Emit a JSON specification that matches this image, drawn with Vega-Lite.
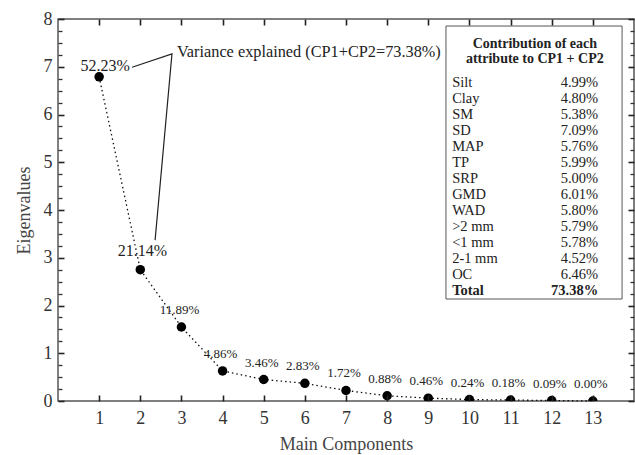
{
  "$schema": "https://vega.github.io/schema/vega-lite/v6.json",
  "width": 576,
  "height": 382,
  "autosize": {"type": "none"},
  "padding": {"left": 58, "top": 19, "right": 1, "bottom": 54},
  "background": "white",
  "config": {
    "view": {"stroke": "#555", "strokeWidth": 1.5},
    "axis": {
      "domain": false, "grid": false,
      "labelFont": "Liberation Serif", "titleFont": "Liberation Serif",
      "labelFontSize": 18, "titleFontSize": 18,
      "labelColor": "#333", "titleColor": "#444", "titleFontWeight": "normal"
    },
    "text": {"font": "Liberation Serif"}
  },
  "datasets": {
    "eig": [
      {"comp": 1, "eig": 6.79, "pct": "52.23%"},
      {"comp": 2, "eig": 2.75, "pct": "21.14%"},
      {"comp": 3, "eig": 1.55, "pct": "11.89%"},
      {"comp": 4, "eig": 0.63, "pct": "4.86%"},
      {"comp": 5, "eig": 0.45, "pct": "3.46%"},
      {"comp": 6, "eig": 0.37, "pct": "2.83%"},
      {"comp": 7, "eig": 0.22, "pct": "1.72%"},
      {"comp": 8, "eig": 0.11, "pct": "0.88%"},
      {"comp": 9, "eig": 0.06, "pct": "0.46%"},
      {"comp": 10, "eig": 0.03, "pct": "0.24%"},
      {"comp": 11, "eig": 0.02, "pct": "0.18%"},
      {"comp": 12, "eig": 0.01, "pct": "0.09%"},
      {"comp": 13, "eig": 0.0, "pct": "0.00%"}
    ],
    "arrow": [
      {"ax": 1.80, "ay": 6.99, "o": 1},
      {"ax": 2.77, "ay": 7.27, "o": 2},
      {"ax": 2.36, "ay": 3.37, "o": 3}
    ],
    "table": [
      {"attr": "Silt", "val": "4.99%"},
      {"attr": "Clay", "val": "4.80%"},
      {"attr": "SM", "val": "5.38%"},
      {"attr": "SD", "val": "7.09%"},
      {"attr": "MAP", "val": "5.76%"},
      {"attr": "TP", "val": "5.99%"},
      {"attr": "SRP", "val": "5.00%"},
      {"attr": "GMD", "val": "6.01%"},
      {"attr": "WAD", "val": "5.80%"},
      {"attr": ">2 mm", "val": "5.79%"},
      {"attr": "<1 mm", "val": "5.78%"},
      {"attr": "2-1 mm", "val": "4.52%"},
      {"attr": "OC", "val": "6.46%"},
      {"attr": "Total", "val": "73.38%"}
    ]
  },
  "resolve": {"scale": {"x": "independent", "y": "independent"}, "axis": {"x": "independent", "y": "independent"}},
  "layer": [
    {
      "data": {"name": "eig"},
      "mark": {"type": "line", "strokeDash": [1.5, 3], "color": "#111", "strokeWidth": 1.3},
      "encoding": {
        "x": {"field": "comp", "type": "quantitative", "scale": {"domain": [0, 14], "nice": false},
              "axis": {"orient": "bottom", "values": [1,2,3,4,5,6,7,8,9,10,11,12,13], "ticks": true, "tickSize": -6, "tickColor": "#222", "tickWidth": 1.6, "title": "Main Components", "labelPadding": 14, "titlePadding": 8, "zindex": 2}},
        "y": {"field": "eig", "type": "quantitative", "scale": {"domain": [0, 8], "nice": false},
              "axis": {"orient": "left", "values": [0,1,2,3,4,5,6,7,8], "ticks": true, "tickSize": -6, "tickColor": "#222", "tickWidth": 1.6, "title": "Eigenvalues", "labelPadding": 12, "titlePadding": 10, "zindex": 2}}
      }
    },
    {
      "data": {"name": "eig"},
      "mark": {"type": "circle", "size": 90, "color": "#000", "opacity": 1, "clip": true},
      "encoding": {
        "x": {"field": "comp", "type": "quantitative", "scale": {"domain": [0, 14], "nice": false},
              "axis": {"orient": "top", "values": [1,2,3,4,5,6,7,8,9,10,11,12,13], "labels": false, "ticks": true, "tickSize": -6, "tickColor": "#222", "tickWidth": 1.6, "title": null, "zindex": 2}},
        "y": {"field": "eig", "type": "quantitative", "scale": {"domain": [0, 8], "nice": false},
              "axis": {"orient": "right", "values": [0,1,2,3,4,5,6,7,8], "labels": false, "ticks": true, "tickSize": -6, "tickColor": "#222", "tickWidth": 1.6, "title": null, "zindex": 2}}
      }
    },
    {
      "data": {"name": "eig"},
      "transform": [{"filter": "datum.comp >= 3"}],
      "mark": {"type": "text", "fontSize": 13, "dy": -17, "dx": -2, "color": "#222", "baseline": "middle"},
      "encoding": {
        "x": {"field": "comp", "type": "quantitative", "scale": {"domain": [0, 14], "nice": false}, "axis": null},
        "y": {"field": "eig", "type": "quantitative", "scale": {"domain": [0, 8], "nice": false},
              "axis": {"orient": "left", "values": [0.25,0.5,0.75,1.25,1.5,1.75,2.25,2.5,2.75,3.25,3.5,3.75,4.25,4.5,4.75,5.25,5.5,5.75,6.25,6.5,6.75,7.25,7.5,7.75], "labels": false, "ticks": true, "tickSize": -4, "tickColor": "#333", "tickWidth": 1.3, "title": null, "zindex": 2}},
        "text": {"field": "pct"}
      }
    },
    {
      "data": {"name": "eig"},
      "transform": [{"filter": "datum.comp == 1"}],
      "mark": {"type": "text", "fontSize": 16, "dy": -11, "dx": 6, "color": "#222", "baseline": "middle"},
      "encoding": {
        "x": {"field": "comp", "type": "quantitative", "scale": {"domain": [0, 14], "nice": false}, "axis": null},
        "y": {"field": "eig", "type": "quantitative", "scale": {"domain": [0, 8], "nice": false},
              "axis": {"orient": "right", "values": [0.25,0.5,0.75,1.25,1.5,1.75,2.25,2.5,2.75,3.25,3.5,3.75,4.25,4.5,4.75,5.25,5.5,5.75,6.25,6.5,6.75,7.25,7.5,7.75], "labels": false, "ticks": true, "tickSize": -4, "tickColor": "#333", "tickWidth": 1.3, "title": null, "zindex": 2}},
        "text": {"field": "pct"}
      }
    },
    {
      "data": {"name": "eig"},
      "transform": [{"filter": "datum.comp == 2"}],
      "mark": {"type": "text", "fontSize": 16, "dy": -19, "dx": 2, "color": "#222", "baseline": "middle"},
      "encoding": {
        "x": {"field": "comp", "type": "quantitative", "scale": {"domain": [0, 14], "nice": false}, "axis": null},
        "y": {"field": "eig", "type": "quantitative", "scale": {"domain": [0, 8], "nice": false}, "axis": null},
        "text": {"field": "pct"}
      }
    },
    {
      "data": {"name": "arrow"},
      "mark": {"type": "line", "color": "#222", "strokeWidth": 1.2},
      "encoding": {
        "x": {"field": "ax", "type": "quantitative", "scale": {"domain": [0, 14], "nice": false}, "axis": null},
        "y": {"field": "ay", "type": "quantitative", "scale": {"domain": [0, 8], "nice": false}, "axis": null},
        "order": {"field": "o", "type": "quantitative"}
      }
    },
    {
      "data": {"values": [{"t": "Variance explained (CP1+CP2=73.38%)"}]},
      "mark": {"type": "text", "fontSize": 16.3, "align": "left", "baseline": "middle", "color": "#222"},
      "encoding": {
        "x": {"datum": 2.89, "type": "quantitative", "scale": {"domain": [0, 14], "nice": false}, "axis": null},
        "y": {"datum": 7.31, "type": "quantitative", "scale": {"domain": [0, 8], "nice": false}, "axis": null},
        "text": {"field": "t"}
      }
    },
    {
      "data": {"values": [{}]},
      "mark": {"type": "rect", "fill": "white", "stroke": "#555", "strokeWidth": 1},
      "encoding": {
        "x": {"datum": 9.43, "type": "quantitative", "scale": {"domain": [0, 14], "nice": false}, "axis": null},
        "x2": {"datum": 13.71},
        "y": {"datum": 7.853, "type": "quantitative", "scale": {"domain": [0, 8], "nice": false}, "axis": null},
        "y2": {"datum": 2.136}
      }
    },
    {
      "data": {"values": [{}]},
      "mark": {"type": "text", "text": ["Contribution of each", "attribute to CP1 + CP2"], "fontSize": 14, "fontWeight": "bold", "lineHeight": 15, "align": "center", "baseline": "middle", "color": "#222"},
      "encoding": {
        "x": {"datum": 11.59, "type": "quantitative", "scale": {"domain": [0, 14], "nice": false}, "axis": null},
        "y": {"datum": 7.476, "type": "quantitative", "scale": {"domain": [0, 8], "nice": false}, "axis": null}
      }
    },
    {
      "data": {"name": "table"},
      "transform": [{"filter": "datum.attr != 'Total'"}],
      "mark": {"type": "text", "fontSize": 14.5, "align": "left", "baseline": "middle", "color": "#222"},
      "encoding": {
        "x": {"datum": 9.58, "type": "quantitative", "scale": {"domain": [0, 14], "nice": false}, "axis": null},
        "y": {"field": "attr", "type": "ordinal", "sort": null,
              "scale": {"type": "point", "domain": ["Silt","Clay","SM","SD","MAP","TP","SRP","GMD","WAD",">2 mm","<1 mm","2-1 mm","OC","Total"], "range": [64, 272], "padding": 0}, "axis": null},
        "text": {"field": "attr"}
      }
    },
    {
      "data": {"name": "table"},
      "transform": [{"filter": "datum.attr != 'Total'"}],
      "mark": {"type": "text", "fontSize": 14.5, "align": "right", "baseline": "middle", "color": "#222"},
      "encoding": {
        "x": {"datum": 13.13, "type": "quantitative", "scale": {"domain": [0, 14], "nice": false}, "axis": null},
        "y": {"field": "attr", "type": "ordinal", "sort": null,
              "scale": {"type": "point", "domain": ["Silt","Clay","SM","SD","MAP","TP","SRP","GMD","WAD",">2 mm","<1 mm","2-1 mm","OC","Total"], "range": [64, 272], "padding": 0}, "axis": null},
        "text": {"field": "val"}
      }
    },
    {
      "data": {"name": "table"},
      "transform": [{"filter": "datum.attr == 'Total'"}],
      "mark": {"type": "text", "fontSize": 14.5, "fontWeight": "bold", "align": "left", "baseline": "middle", "color": "#222"},
      "encoding": {
        "x": {"datum": 9.58, "type": "quantitative", "scale": {"domain": [0, 14], "nice": false}, "axis": null},
        "y": {"field": "attr", "type": "ordinal", "sort": null,
              "scale": {"type": "point", "domain": ["Silt","Clay","SM","SD","MAP","TP","SRP","GMD","WAD",">2 mm","<1 mm","2-1 mm","OC","Total"], "range": [64, 272], "padding": 0}, "axis": null},
        "text": {"field": "attr"}
      }
    },
    {
      "data": {"name": "table"},
      "transform": [{"filter": "datum.attr == 'Total'"}],
      "mark": {"type": "text", "fontSize": 14.5, "fontWeight": "bold", "align": "right", "baseline": "middle", "color": "#222"},
      "encoding": {
        "x": {"datum": 13.13, "type": "quantitative", "scale": {"domain": [0, 14], "nice": false}, "axis": null},
        "y": {"field": "attr", "type": "ordinal", "sort": null,
              "scale": {"type": "point", "domain": ["Silt","Clay","SM","SD","MAP","TP","SRP","GMD","WAD",">2 mm","<1 mm","2-1 mm","OC","Total"], "range": [64, 272], "padding": 0}, "axis": null},
        "text": {"field": "val"}
      }
    }
  ]
}
